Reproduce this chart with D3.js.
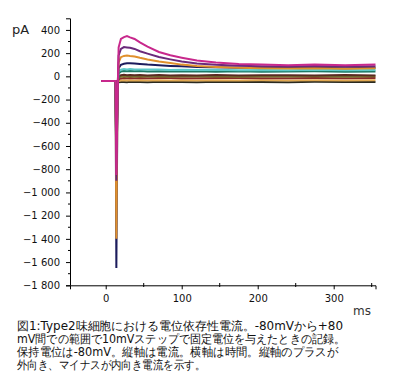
<!DOCTYPE html>
<html>
<head>
<meta charset="utf-8">
<script src="https://cdn.jsdelivr.net/npm/d3@7"></script>
<style>
  body { margin: 0; background: #fff; }
  text { font-family: "DejaVu Sans", sans-serif; }
</style>
</head>
<body>
<script>
// time points (ms) shared by all traces
var times = [-6, 13, 14, 15.5, 17, 20, 24, 28, 32, 38, 45, 55, 70, 85, 100, 120, 145, 175, 205, 240, 275, 315, 355];

// current traces (pA), drawn bottom first so magenta ends on top
var traceBlack  = [-40, -40, -700, -55, -50, -48, -48, -50, -47, -49, -48, -50, -47, -49, -48, -50, -47, -49, -48, -50, -47, -49, -48];
var traceYellow = [-40, -40, -750, -55, -40, -35, -33, -36, -34, -35, -33, -36, -33, -35, -34, -36, -33, -35, -34, -36, -33, -35, -34];
var traceRed    = [-40, -40, -800, -60, -25, -18, -14, -17, -15, -16, -14, -17, -15, -14, -16, -17, -14, -15, -16, -17, -14, -16, -15];
var traceOlive  = [-40, -40, -850, -60, -10, -3, 1, -2, 0, -3, 1, -2, 0, -3, 1, -2, 0, -3, 1, -2, 0, -3, 0];
var traceBrown  = [-40, -40, -900, -70, 0, 10, 13, 9, 12, 10, 11, 8, 11, 8, 10, 8, 11, 8, 9, 10, 8, 11, 8];
var traceTeal   = [-40, -40, -950, -80, 25, 42, 46, 43, 46, 44, 45, 42, 44, 41, 42, 43, 40, 43, 40, 41, 43, 40, 42];
var traceCyan   = [-40, -40, -1000, -90, 40, 58, 63, 60, 63, 59, 60, 58, 60, 55, 57, 55, 56, 52, 55, 53, 56, 52, 55];
var traceNavy   = [-40, -40, -1650, -100, 70, 100, 108, 112, 113, 110, 106, 101, 96, 90, 86, 81, 78, 75, 73, 71, 73, 70, 73];
var traceOrange = [-40, -40, -1400, -120, 120, 165, 176, 180, 176, 171, 160, 146, 128, 115, 101, 89, 80, 73, 70, 67, 70, 66, 69];
var tracePurple = [-40, -40, -900, -150, 180, 236, 252, 249, 246, 236, 216, 196, 166, 146, 127, 111, 100, 92, 88, 85, 89, 84, 87];
var traceMagenta= [-40, -40, -850, -200, 250, 322, 338, 347, 336, 322, 292, 256, 210, 181, 161, 136, 120, 106, 101, 95, 101, 96, 101];

var traceList = [traceBlack, traceYellow, traceRed, traceOlive, traceBrown, traceTeal, traceCyan, traceNavy, traceOrange, tracePurple, traceMagenta];
var traceColors = ["#2a2a20", "#e0a850", "#8a2a2a", "#7a7a30", "#5a2a20", "#1e7a66", "#5cc8c8", "#1c1c5c", "#e0902c", "#6a2a7a", "#c8288c"];

var yTicks = [-1800, -1600, -1400, -1200, -1000, -800, -600, -400, -200, 0, 200, 400];
var xTicks = [0, 100, 200, 300];

var caption = [
  "図1:Type2味細胞における電位依存性電流。-80mVから+80",
  "mV間での範囲で10mVステップで固定電位を与えたときの記録。",
  "保持電位は-80mV。縦軸は電流。横軸は時間。縦軸のプラスが",
  "外向き、マイナスが内向き電流を示す。"
];
var captionWidths = [326, 328, 321, 188];

var svg = d3.select("body").append("svg")
    .attr("width", 398)
    .attr("height", 384);

var x = d3.scaleLinear().domain([-47, 355]).range([70, 375.5]);
var y = d3.scaleLinear().domain([-1800, 500]).range([285.3, 18.3]);

var loc = d3.formatLocale({decimal: ".", thousands: " ", grouping: [3], currency: ["", ""], minus: "\u2212"});
var fmt = loc.format(",d");

// y axis
var yAxis = svg.append("g")
    .attr("transform", "translate(70,0)")
    .call(d3.axisLeft(y).tickValues(yTicks).tickFormat(fmt).tickSize(4).tickPadding(6));
yAxis.selectAll("text").attr("font-size", 10).attr("fill", "#111");
yAxis.select(".domain").attr("stroke", "#000");

// minor y ticks
svg.append("g").selectAll("line")
    .data(d3.range(-1700, 500, 200))
    .join("line")
    .attr("x1", 68).attr("x2", 70)
    .attr("y1", d => y(d)).attr("y2", d => y(d))
    .attr("stroke", "#000");

// x axis
var xAxis = svg.append("g")
    .attr("transform", "translate(0,285.3)")
    .call(d3.axisBottom(x).tickValues(xTicks).tickSize(4).tickPadding(6));
xAxis.selectAll("text").attr("font-size", 10).attr("fill", "#111");
xAxis.select(".domain").attr("stroke", "#000");

svg.append("g").selectAll("line")
    .data([50, 150, 250, 350])
    .join("line")
    .attr("x1", d => x(d)).attr("x2", d => x(d))
    .attr("y1", 283).attr("y2", 287)
    .attr("stroke", "#000");

// traces
var line = d3.line()
    .x((d, i) => x(times[i]))
    .y(d => y(d));

svg.append("g").selectAll("path")
    .data(traceList)
    .join("path")
    .attr("d", d => line(d))
    .attr("fill", "none")
    .attr("stroke", (d, i) => traceColors[i])
    .attr("stroke-width", 2);

// unit labels
svg.append("text").attr("x", 12).attr("y", 34).attr("font-size", 13).attr("fill", "#222").text("pA");
svg.append("text").attr("x", 353).attr("y", 315).attr("font-size", 12).attr("fill", "#333").text("ms");

// caption
svg.append("g").selectAll("text")
    .data(caption)
    .join("text")
    .attr("x", 17)
    .attr("y", (d, i) => 330 + i * 13)
    .attr("font-family", "'Noto Sans CJK JP', sans-serif")
    .attr("font-size", 12)
    .attr("fill", "#111")
    .attr("textLength", (d, i) => captionWidths[i])
    .attr("lengthAdjust", "spacingAndGlyphs")
    .text(d => d);
</script>
</body>
</html>
